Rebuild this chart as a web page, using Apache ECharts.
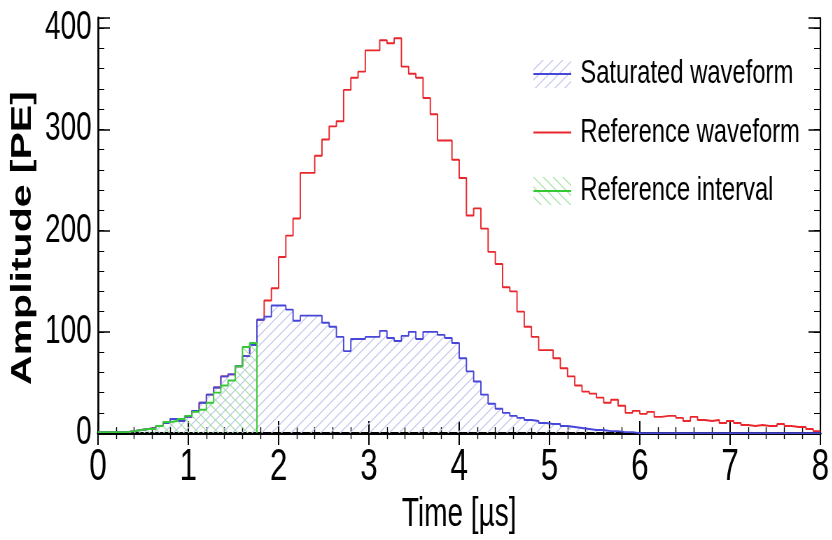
<!DOCTYPE html>
<html>
<head>
<meta charset="utf-8">
<script src="https://cdn.jsdelivr.net/npm/echarts@6/dist/echarts.min.js"></script>
<style>
html,body{margin:0;padding:0;background:#fff;overflow:hidden;width:832px;height:540px}
#chart{width:1188.57px;height:540px;transform:scaleX(0.7);transform-origin:0 0}
</style>
</head>
<body>
<div id="chart"></div>
<script>
// ---- data ----
const binWidth = 0.08;          // µs per histogram bin
const timeRange = [0, 8];
const amplitudeRange = [0, 410];
const xTickStep = 1;
const yTickStep = 100;
const yMinorStep = 20;
const seriesNames = ['Saturated waveform', 'Reference waveform', 'Reference interval'];

// Saturated waveform, one value per bin (100 bins)
const saturated = [
  1, 1, 1, 1, 2, 3, 4, 5, 7, 10,
  14, 12, 16, 22, 30, 38, 45, 56, 58, 66,
  76, 87, 112, 115, 126, 126, 122, 111, 116, 116,
  116, 109, 105, 95, 81, 93, 93, 95, 95, 101,
  94, 91, 96, 100, 93, 100, 100, 97, 94, 89,
  74, 61, 51, 38, 29, 24, 20, 17, 15, 13,
  12, 10, 9, 9, 7, 6, 5, 4, 3, 3,
  2, 2, 1, 1, 0, 0, 0, 0, 0, 0,
  0, 0, 0, 0, 0, 0, 0, 0, 0, 0,
  0, 0, 0, 0, 0, 0, 0, 0, 0, 0
];

// Reference waveform (100 bins)
const reference = [
  1, 1, 1, 1, 2, 3, 4, 5, 7, 10,
  14, 12, 16, 22, 30, 38, 45, 56, 58, 66,
  76, 87, 112, 131, 143, 174, 195, 212, 257, 257,
  274, 290, 303, 308, 339, 351, 357, 378, 378, 388,
  385, 390, 362, 355, 351, 331, 315, 289, 289, 270,
  252, 215, 222, 202, 179, 167, 144, 140, 120, 105,
  95, 82, 82, 74, 64, 56, 47, 41, 39, 35,
  30, 33, 27, 20, 22, 19, 21, 16, 17, 17,
  15, 12, 16, 13, 12, 13, 10, 12, 10, 8,
  7, 8, 7, 7, 9, 7, 6, 6, 4, 2
];

// Reference interval (first 22 bins)
const interval = [
  1, 1, 1, 1, 2, 3, 4, 4, 7, 11,
  12, 14, 17, 21, 23, 30, 40, 47, 52, 66,
  85, 89
];

// ---- helpers ----
function histPoints(values, closeToZero) {
  const pts = values.map((v, i) => [+(i * binWidth).toFixed(3), v]);
  const end = +(values.length * binWidth).toFixed(3);
  pts.push([end, closeToZero ? 0 : values[values.length - 1]]);
  return pts;
}

// hatch tile (pre-stretched horizontally to compensate the page's 0.7 x-scale)
function hatchCanvas(color, dir) {
  const w = 14, h = 10;
  const c = document.createElement('canvas');
  c.width = w; c.height = h;
  const g = c.getContext('2d');
  g.strokeStyle = color;
  g.lineWidth = 1.2;
  g.beginPath();
  if (dir > 0) {
    g.moveTo(0, h); g.lineTo(w, 0);
    g.moveTo(-w / 2, h / 2); g.lineTo(w / 2, -h / 2);
    g.moveTo(w / 2, h * 1.5); g.lineTo(w * 1.5, h / 2);
  } else {
    g.moveTo(0, 0); g.lineTo(w, h);
    g.moveTo(-w / 2, h / 2); g.lineTo(w / 2, h * 1.5);
    g.moveTo(w / 2, -h / 2); g.lineTo(w * 1.5, h / 2);
  }
  g.stroke();
  return c;
}

function legendIcon(lineColor, hatchColor, dir) {
  const W = 62, H = 28, lineLen = 54;
  const c = document.createElement('canvas');
  c.width = W; c.height = H;
  const g = c.getContext('2d');
  if (hatchColor) {
    g.fillStyle = g.createPattern(hatchCanvas(hatchColor, dir), 'repeat');
    g.fillRect(0, 0, lineLen, H);
  }
  g.strokeStyle = lineColor;
  g.lineWidth = 1.8;
  g.beginPath();
  g.moveTo(0, H / 2); g.lineTo(lineLen, H / 2);
  g.stroke();
  return 'image://' + c.toDataURL();
}

const blue = '#4646d8';
const red = '#e8262b';
const green = '#36c936';
const blueHatch = '#c4c6ee';
const greenHatch = '#a6e2a6';

const sans = '"Liberation Sans", Arial, sans-serif';

const chart = echarts.init(document.getElementById('chart'), null, {renderer: 'canvas'});

const baseX = {
  type: 'value', min: timeRange[0], max: timeRange[1], interval: xTickStep,
  splitLine: {show: false}
};
const baseY = {
  type: 'value', min: amplitudeRange[0], max: amplitudeRange[1],
  splitLine: {show: false}
};

chart.setOption({
  animation: false,
  backgroundColor: '#fff',
  grid: {left: 140, right: 17, top: 18, bottom: 103, containLabel: false},
  legend: {
    orient: 'vertical', left: 757, top: 52,
    itemWidth: 62, itemHeight: 28, itemGap: 24.5,
    textStyle: {fontSize: 34, fontFamily: sans, color: '#000'},
    data: [
      {name: seriesNames[0], icon: legendIcon(blue, blueHatch, 1)},
      {name: seriesNames[1], icon: legendIcon(red, null, 0)},
      {name: seriesNames[2], icon: legendIcon(green, greenHatch, -1)}
    ]
  },
  xAxis: [
    Object.assign({}, baseX, {
      position: 'bottom',
      axisLine: {lineStyle: {color: '#000', width: 3}},
      axisTick: {inside: true, length: 12, lineStyle: {color: '#000', width: 2}},
      minorTick: {show: true, splitNumber: 5, length: 6, lineStyle: {color: '#000', width: 1.4}},
      axisLabel: {fontSize: 45, fontFamily: sans, color: '#000', margin: 12},
      name: 'Time [µs]', nameLocation: 'middle', nameGap: 50,
      nameTextStyle: {fontSize: 40, fontFamily: sans, color: '#000'}
    }),
    Object.assign({}, baseX, {
      position: 'top',
      axisLine: {lineStyle: {color: '#000', width: 2.5}},
      axisTick: {inside: true, length: 12, lineStyle: {color: '#000', width: 2}},
      minorTick: {show: true, splitNumber: 5, length: 6, lineStyle: {color: '#000', width: 1.4}},
      axisLabel: {show: false}
    })
  ],
  yAxis: [
    Object.assign({}, baseY, {
      position: 'left', interval: yTickStep,
      axisLine: {lineStyle: {color: '#000', width: 2.8}},
      axisTick: {inside: true, length: 17, lineStyle: {color: '#000', width: 1.5}},
      axisLabel: {
        fontSize: 40, fontFamily: sans, color: '#000', margin: 9,
        formatter: v => (v % yTickStep === 0 ? String(v) : '')
      },
      name: 'Amplitude [PE]', nameLocation: 'middle', nameGap: 60,
      nameTextStyle: {fontSize: 41, fontWeight: 'bold', fontFamily: sans, color: '#000', padding: [0, 25, 0, 0]}
    }),
    Object.assign({}, baseY, {
      position: 'left', interval: yMinorStep,
      axisLine: {show: false},
      axisTick: {inside: true, length: 9, lineStyle: {color: '#000', width: 1}},
      axisLabel: {show: false}
    }),
    Object.assign({}, baseY, {
      position: 'right', interval: yTickStep,
      axisLine: {lineStyle: {color: '#000', width: 2.2}},
      axisTick: {inside: true, length: 17, lineStyle: {color: '#000', width: 1.5}},
      axisLabel: {show: false}
    }),
    Object.assign({}, baseY, {
      position: 'right', interval: yMinorStep,
      axisLine: {show: false},
      axisTick: {inside: true, length: 9, lineStyle: {color: '#000', width: 1}},
      axisLabel: {show: false}
    })
  ],
  series: [
    {
      name: seriesNames[1], type: 'line', step: 'end',
      data: histPoints(reference, false),
      symbol: 'none', showSymbol: false, z: 2,
      lineStyle: {color: red, width: 1.9}, itemStyle: {color: red}
    },
    {
      name: seriesNames[0], type: 'line', step: 'end',
      data: histPoints(saturated, false),
      symbol: 'none', showSymbol: false, z: 3,
      lineStyle: {color: blue, width: 1.9}, itemStyle: {color: blue},
      areaStyle: {color: {image: hatchCanvas(blueHatch, 1), repeat: 'repeat'}, opacity: 1}
    },
    {
      name: seriesNames[2], type: 'line', step: 'end',
      data: histPoints(interval, true),
      symbol: 'none', showSymbol: false, z: 4,
      lineStyle: {color: green, width: 1.9}, itemStyle: {color: green},
      areaStyle: {color: {image: hatchCanvas(greenHatch, -1), repeat: 'repeat'}, opacity: 1}
    }
  ]
});
</script>
</body>
</html>
